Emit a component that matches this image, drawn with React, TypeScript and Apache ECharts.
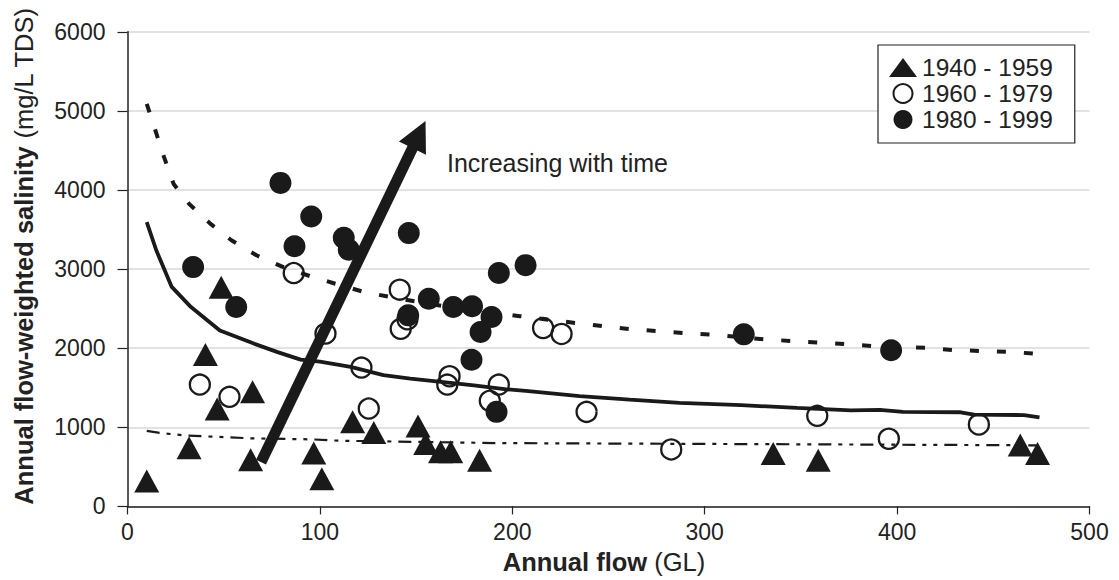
import React, { useEffect, useRef } from "react";
import * as echarts from "echarts";

const FONT = "'Liberation Sans', Arial, Helvetica, sans-serif";

const seriesNames = ["1940 - 1959", "1960 - 1979", "1980 - 1999"];

// 1940 - 1959 (filled triangles): [annual flow GL, salinity mg/L]
const points1940: number[][] = [
  [10, 320], [32, 740], [40.5, 1920], [46.6, 1230], [48.7, 2770],
  [64, 590], [65, 1450], [96.8, 675], [101, 350], [117, 1070],
  [128, 935], [151, 1015], [155, 795], [162.7, 690], [168, 690],
  [183, 585], [335.6, 670], [359, 585], [464, 775], [473, 670],
];

// 1960 - 1979 (open circles)
const points1960: number[][] = [
  [37.6, 1540], [53, 1385], [86.4, 2950], [102.9, 2185], [121.6, 1755],
  [125.4, 1237], [141.5, 2740], [142, 2245], [145.5, 2365], [167.4, 1645],
  [166.2, 1540], [193, 1540], [188.3, 1335], [216, 2255], [225.6, 2180],
  [238.6, 1195], [282.6, 720], [358.5, 1145], [395.7, 855], [442.5, 1035],
];

// 1980 - 1999 (filled circles)
const points1980: number[][] = [
  [79.5, 4090], [95.5, 3665], [86.8, 3290], [34.1, 3025], [56.5, 2520],
  [112.4, 3395], [115, 3245], [146.2, 3455], [156.6, 2625], [145.9, 2415],
  [169.3, 2520], [179.1, 2530], [189.2, 2395], [183.5, 2205], [178.8, 1855],
  [193, 2950], [206.9, 3050], [191.8, 1195], [320.3, 2175], [396.9, 1975],
];

// fitted curves
const fit1940: number[][] = [
  [10, 955], [18, 925], [31, 895], [65, 860], [95, 848], [110, 830],
  [194, 800], [300, 790], [400, 780], [473, 772],
];
const fit1960: number[][] = [
  [10, 3595], [15, 3235], [23, 2775], [33, 2520], [48, 2225], [66, 2055],
  [78, 1950], [90, 1855], [100, 1830], [116, 1765], [133, 1660], [147, 1615],
  [163, 1575], [180, 1530], [197, 1480], [207, 1460], [235, 1395], [261, 1350],
  [287, 1310], [319, 1280], [348, 1245], [376, 1215], [391, 1220], [403, 1195],
  [433, 1190], [440, 1160], [466, 1155], [474, 1125],
];
const fit1980: number[][] = [
  [10, 5090], [19, 4415], [24, 4075], [32, 3825], [43, 3575], [54, 3365],
  [67, 3175], [81, 3025], [95, 2910], [108, 2815], [123, 2710], [137, 2645],
  [151, 2585], [170, 2510], [204, 2405], [234, 2315], [262, 2240], [290, 2190],
  [305, 2170], [332, 2110], [346, 2090], [374, 2050], [388, 2025], [416, 2005],
  [430, 1975], [458, 1955], [472, 1930],
];

// trend arrow (start, end) in data coordinates
const arrowStart = [69.4, 561];
const arrowEnd = [151.5, 4700];
const arrowText = "Increasing with time";

const xTitleBold = "Annual flow";
const xTitleUnit = "(GL)";
const yTitleBold = "Annual flow-weighted salinity";
const yTitleUnit = "(mg/L TDS)";

export default function App() {
  const ref = useRef<HTMLDivElement>(null);

  useEffect(() => {
    if (!ref.current) return;
    const chart = echarts.init(ref.current, undefined, { renderer: "svg" });
    const ink = "#1a1a1a";
    const option: any = {
      animation: false,
      backgroundColor: "#ffffff",
      textStyle: { fontFamily: FONT },
      grid: {
        left: 127.5,
        right: 29.5,
        top: 31.8,
        bottom: 73.6,
        containLabel: false,
        outerBoundsMode: "none",
      },
      legend: {
        show: true,
        orient: "vertical",
        left: 878,
        top: 45,
        data: seriesNames,
        itemWidth: 28,
        itemHeight: 19,
        itemGap: 1,
        padding: [10, 22, 11, 11],
        borderColor: "#222",
        borderWidth: 1.2,
        backgroundColor: "#fff",
        textStyle: { fontSize: 24.5, lineHeight: 23, color: "#222", fontFamily: FONT },
        selectedMode: false,
      },
      xAxis: {
        type: "value",
        min: 0,
        max: 500,
        interval: 100,
        axisLine: { show: true, onZero: false, lineStyle: { color: "#222", width: 1.5 } },
        axisTick: { show: true, length: 8, lineStyle: { color: "#222", width: 1.2 } },
        axisLabel: { fontSize: 23, color: "#222", margin: 14, fontFamily: FONT, formatter: (v: number) => String(v) },
        splitLine: { show: false },
      },
      yAxis: {
        type: "value",
        min: 0,
        max: 6000,
        interval: 1000,
        axisLine: { show: true, onZero: false, lineStyle: { color: "#222", width: 1.5 } },
        axisTick: { show: true, length: 10, lineStyle: { color: "#222", width: 1.2 } },
        axisLabel: { fontSize: 23, color: "#222", margin: 22, fontFamily: FONT, formatter: (v: number) => String(v) },
        splitLine: { show: true, lineStyle: { color: "#d9d9d9", width: 1.5 } },
      },
      graphic: [
        {
          type: "text",
          x: 447,
          y: 163,
          silent: true,
          style: {
            text: arrowText,
            fontSize: 25,
            fontFamily: FONT,
            fill: "#222",
            align: "left",
            verticalAlign: "middle",
          },
        },
        {
          type: "text",
          x: 604,
          y: 562,
          silent: true,
          style: {
            text: `{b|${xTitleBold}}{n| ${xTitleUnit}}`,
            align: "center",
            verticalAlign: "middle",
            fill: "#222",
            rich: {
              b: { fontSize: 25.5, fontWeight: "bold", fontFamily: FONT, fill: "#222" },
              n: { fontSize: 25.5, fontFamily: FONT, fill: "#222" },
            },
          },
        },
        {
          type: "text",
          x: 24,
          y: 256,
          rotation: Math.PI / 2,
          silent: true,
          style: {
            text: `{b|${yTitleBold}}{n| ${yTitleUnit}}`,
            align: "center",
            verticalAlign: "middle",
            fill: "#222",
            rich: {
              b: { fontSize: 25.5, fontWeight: "bold", fontFamily: FONT, fill: "#222" },
              n: { fontSize: 25.5, fontFamily: FONT, fill: "#222" },
            },
          },
        },
      ],
      series: [
        {
          name: "fit1940",
          type: "line",
          data: fit1940,
          symbol: "none",
          silent: true,
          z: 2,
          lineStyle: { color: ink, width: 2.2, type: [13, 7, 4, 7, 4, 7] },
        },
        {
          name: "fit1960",
          type: "line",
          data: fit1960,
          symbol: "none",
          silent: true,
          z: 2,
          lineStyle: { color: ink, width: 3.8, type: "solid" },
        },
        {
          name: "fit1980",
          type: "line",
          data: fit1980,
          symbol: "none",
          silent: true,
          z: 2,
          lineStyle: { color: ink, width: 4, type: [9, 18] },
        },
        {
          name: seriesNames[0],
          type: "scatter",
          data: points1940,
          symbol: "triangle",
          symbolSize: [25, 23],
          z: 3,
          itemStyle: { color: ink, opacity: 1 },
        },
        {
          name: seriesNames[1],
          type: "scatter",
          data: points1960,
          symbol: "circle",
          symbolSize: 20,
          z: 3,
          itemStyle: { color: "rgba(255,255,255,0)", borderColor: ink, borderWidth: 2.3, opacity: 1 },
        },
        {
          name: seriesNames[2],
          type: "scatter",
          data: points1980,
          symbol: "circle",
          symbolSize: 22,
          z: 4,
          itemStyle: { color: ink, opacity: 1 },
        },
        {
          name: "arrow",
          type: "line",
          data: [],
          z: 10,
          silent: true,
          markLine: {
            silent: true,
            animation: false,
            symbol: ["none", "triangle"],
            symbolSize: 30,
            label: { show: false },
            emphasis: { disabled: true },
            lineStyle: { color: ink, width: 11, type: "solid", opacity: 1 },
            data: [[{ coord: arrowStart }, { coord: arrowEnd }]],
          },
        },
      ],
    };
    chart.setOption(option);
    return () => chart.dispose();
  }, []);

  return (
    <div
      ref={ref}
      style={{ position: "fixed", left: 0, top: 0, width: 1119, height: 580, background: "#fff" }}
    />
  );
}
